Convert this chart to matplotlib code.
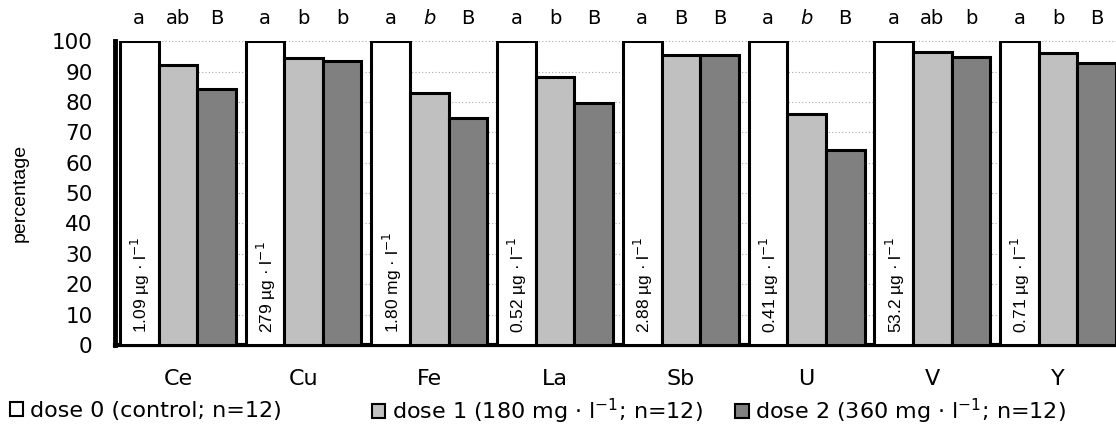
import matplotlib.pyplot as plt
import numpy as np
from matplotlib.patches import Patch

plt.rcParams['font.family'] = ['DejaVu Sans']
plt.rcParams['mathtext.fontset'] = 'dejavusans'

elements = ['Ce', 'Cu', 'Fe', 'La', 'Sb', 'U', 'V', 'Y']
dose0 = [100, 100, 100, 100, 100, 100, 100, 100]
dose1 = [92.0, 94.4, 82.9, 88.3, 95.3, 76.1, 96.4, 96.1]
dose2 = [84.1, 93.3, 74.6, 79.8, 95.3, 64.1, 94.8, 92.8]
control = ['1.09 µg · l$^{-1}$', '279 µg · l$^{-1}$', '1.80 mg · l$^{-1}$', '0.52 µg · l$^{-1}$',
           '2.88 µg · l$^{-1}$', '0.41 µg · l$^{-1}$', '53.2 µg · l$^{-1}$', '0.71 µg · l$^{-1}$']
letters = [['a', 'ab', 'B'], ['a', 'b', 'b'], ['a', '*b', 'B'], ['a', 'b', 'B'],
           ['a', 'B', 'B'], ['a', '*b', 'B'], ['a', 'ab', 'b'], ['a', 'b', 'B']]
legend_labels = ['dose 0 (control; n=12)', 'dose 1 (180 mg · l$^{-1}$; n=12)',
                 'dose 2 (360 mg · l$^{-1}$; n=12)']
colors = ['white', '#c0c0c0', '#808080']

narrow = ['Liberation Sans', 'DejaVu Sans']

fig = plt.figure(figsize=(11.16, 4.36), dpi=100)
ax = fig.add_axes([0.103, 0.2087, 0.9015, 0.697])

x = np.arange(len(elements)) + 0.5
w = 0.307
for k, vals in enumerate([dose0, dose1, dose2]):
    ax.bar(x + (k - 1) * w, vals, w, color=colors[k], edgecolor='black', linewidth=2.2, zorder=3)

for i in range(len(elements)):
    ax.text(x[i] - w + 0.01, 3.8, control[i], rotation=90, ha='center', va='bottom',
            fontsize=12.5, family=narrow, zorder=4)
    for k, lab in enumerate(letters[i]):
        style = 'normal'
        if lab.startswith('*'):
            lab = lab[1:]
            style = 'italic'
        ax.text(x[i] + (k - 1) * w, 107.5, lab, ha='center', va='center', fontsize=14,
                style=style, clip_on=False)

ax.set_xlim(0, len(elements))
ax.set_ylim(0, 100)
ax.set_yticks(np.arange(0, 101, 10))
ax.set_xticks(x)
ax.set_xticklabels(elements, fontsize=16)
ax.tick_params(axis='x', length=0, pad=17)
ax.tick_params(axis='y', length=0, pad=16, labelsize=15.5)
ax.yaxis.grid(True, linestyle=(0, (1, 2)), color='#aaaaaa', linewidth=0.8, zorder=0)
ax.set_ylabel('percentage', fontsize=14, family=narrow, labelpad=17)

for s in ['top', 'right']:
    ax.spines[s].set_visible(False)
ax.spines['left'].set_linewidth(3.5)
ax.spines['bottom'].set_linewidth(3)

# one legend per entry so each sits where the original has it
leg_x = [0.009, 0.333, 0.659]
for k in range(3):
    h = Patch(facecolor=colors[k], edgecolor='black', linewidth=1.5)
    fig.legend([h], [legend_labels[k]], loc='center left', bbox_to_anchor=(leg_x[k], 0.057),
               frameon=False, handlelength=0.6, handleheight=0.6, handletextpad=0.3,
               borderpad=0, borderaxespad=0, prop={'size': 16})

fig.savefig('out.png', dpi=100)
